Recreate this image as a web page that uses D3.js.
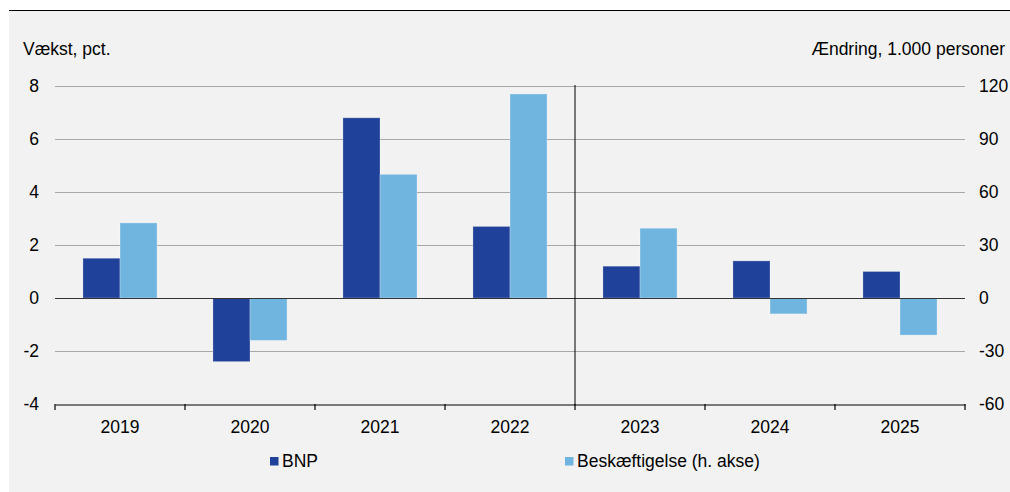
<!DOCTYPE html>
<html>
<head>
<meta charset="utf-8">
<script src="https://cdn.jsdelivr.net/npm/d3@7"></script>
<style>
  html, body { margin: 0; padding: 0; background: #ffffff; }
  svg { display: block; font-family: "Liberation Sans", Arial, sans-serif; }
</style>
</head>
<body>
<svg id="chart" width="1010" height="492"></svg>
<script>
const years = ["2019", "2020", "2021", "2022", "2023", "2024", "2025"];
const bnp = [1.5, -2.4, 6.8, 2.7, 1.2, 1.4, 1.0];
const beskaeftigelse = [42.5, -24, 70, 115.5, 39.5, -9, -21];
const leftTicks = [-4, -2, 0, 2, 4, 6, 8];
const rightTicks = [-60, -30, 0, 30, 60, 90, 120];
const seriesNames = ["BNP", "Beskæftigelse (h. akse)"];
const colors = ["#1f419a", "#70b4e0"];
const leftTitle = "Vækst, pct.";
const rightTitle = "Ændring, 1.000 personer";

const svg = d3.select("#chart");
const W = 1010, H = 492;
const m = { left: 55, right: 965, top: 86, bottom: 404 };
const fs = 17.5;

svg.append("rect").attr("x", 9).attr("y", 10).attr("width", W - 9).attr("height", H - 10).attr("fill", "#f2f2f2");
svg.append("line").attr("x1", 9).attr("x2", W).attr("y1", 10.5).attr("y2", 10.5).attr("stroke", "#000").attr("stroke-width", 1);

const x0 = d3.scaleBand().domain(years).range([m.left, m.right]).paddingInner(0.43).paddingOuter(0.215);
const xCat = d3.scaleBand().domain(years).range([m.left, m.right]).padding(0);
const x1 = d3.scaleBand().domain([0, 1]).range([0, x0.bandwidth()]).padding(0);
const yL = d3.scaleLinear().domain([-4, 8]).range([m.bottom, m.top]);
const yR = d3.scaleLinear().domain([-60, 120]).range([m.bottom, m.top]);

// gridlines
svg.append("g").selectAll("line").data(leftTicks.filter(d => d !== -4 && d !== 0)).join("line")
  .attr("x1", m.left).attr("x2", m.right)
  .attr("y1", d => Math.round(yL(d)) + 0.5).attr("y2", d => Math.round(yL(d)) + 0.5)
  .attr("stroke", "#a8a8a8").attr("stroke-width", 1);

// bars
const data = years.map((y, i) => ({ year: y, vals: [bnp[i], beskaeftigelse[i]] }));
const g = svg.append("g").selectAll("g").data(data).join("g")
  .attr("transform", d => `translate(${x0(d.year)},0)`);
g.append("rect")
  .attr("x", x1(0)).attr("width", x1.bandwidth())
  .attr("y", d => yL(Math.max(0, d.vals[0])))
  .attr("height", d => Math.abs(yL(d.vals[0]) - yL(0)))
  .attr("fill", colors[0]).attr("stroke", "rgba(255,255,255,0.25)").attr("stroke-width", 1);
g.append("rect")
  .attr("x", x1(1)).attr("width", x1.bandwidth())
  .attr("y", d => yR(Math.max(0, d.vals[1])))
  .attr("height", d => Math.abs(yR(d.vals[1]) - yR(0)))
  .attr("fill", colors[1]).attr("stroke", "rgba(255,255,255,0.3)").attr("stroke-width", 1);

// zero line
svg.append("line").attr("x1", m.left).attr("x2", m.right)
  .attr("y1", Math.round(yL(0)) + 0.5).attr("y2", Math.round(yL(0)) + 0.5)
  .attr("stroke", "#333").attr("stroke-width", 1.2);

// vertical divider between 2022 and 2023
const divX = xCat("2023");
svg.append("line").attr("x1", divX).attr("x2", divX).attr("y1", m.top - 1).attr("y2", m.bottom + 1)
  .attr("stroke", "#000").attr("stroke-width", 1);

// bottom axis
const xAxis = d3.axisBottom(xCat).tickSize(0).tickPadding(0);
const ax = svg.append("g").attr("transform", `translate(0,${m.bottom + 0.5})`).call(xAxis);
ax.select(".domain").attr("stroke", "#000").attr("stroke-width", 1.2);
ax.selectAll(".tick text").attr("font-size", fs).attr("fill", "#000").attr("dy", null).attr("y", 28)
  .attr("font-family", "'Liberation Sans', Arial, sans-serif");
const boundaries = years.map(y => xCat(y)).concat([m.right]);
svg.append("g").selectAll("line").data(boundaries).join("line")
  .attr("x1", d => d).attr("x2", d => d).attr("y1", m.bottom).attr("y2", m.bottom + 6)
  .attr("stroke", "#000").attr("stroke-width", 1.2);

// left axis labels
svg.append("g").selectAll("text").data(leftTicks).join("text")
  .attr("x", 39).attr("y", d => yL(d)).attr("dy", "0.35em")
  .attr("text-anchor", "end").attr("font-size", fs).attr("fill", "#000")
  .text(d => String(d));

// right axis labels
svg.append("g").selectAll("text").data(rightTicks).join("text")
  .attr("x", 979).attr("y", d => yR(d)).attr("dy", "0.35em")
  .attr("text-anchor", "start").attr("font-size", fs).attr("fill", "#000")
  .text(d => String(d));

// axis titles
svg.append("text").attr("x", 23).attr("y", 55).attr("font-size", fs).attr("fill", "#000").text(leftTitle);
svg.append("text").attr("x", 1005).attr("y", 55).attr("text-anchor", "end").attr("font-size", fs).attr("fill", "#000").text(rightTitle);

// legend
const legX = [270, 565];
const leg = svg.append("g").selectAll("g").data(seriesNames).join("g")
  .attr("transform", (d, i) => `translate(${legX[i]},0)`);
leg.append("rect").attr("x", 0).attr("y", 457).attr("width", 8.5).attr("height", 8.5).attr("fill", (d, i) => colors[i]);
leg.append("text").attr("x", 12).attr("y", 467).attr("font-size", fs).attr("fill", "#000").text(d => d);
</script>
</body>
</html>
